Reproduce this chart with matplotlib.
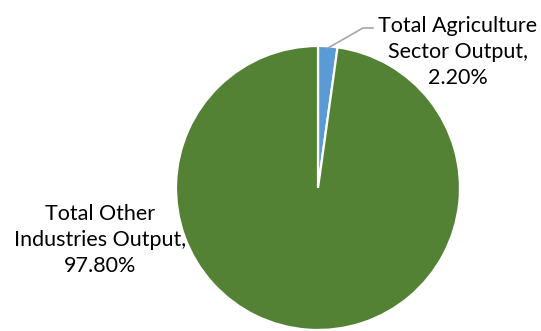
import matplotlib
matplotlib.use('Agg')
import matplotlib.pyplot as plt

# données
categories = ['Total Agriculture\nSector Output', 'Total Other\nIndustries Output']
valeurs = [2.20, 97.80]
couleurs = ['#5B9BD5', '#548235']

plt.rcParams['font.family'] = ['Lato', 'DejaVu Sans']

fig = plt.figure(figsize=(5.41, 3.31), dpi=100)
ax = fig.add_axes([(318 - 142) / 541, (143 - 142) / 331, 284 / 541, 284 / 331])

ax.pie(valeurs, colors=couleurs, startangle=90, counterclock=False, radius=1,
       wedgeprops=dict(edgecolor='white', linewidth=1.6))
ax.set_xlim(-1, 1)
ax.set_ylim(-1, 1)
ax.set_aspect('auto')

# étiquettes
textes = [f'{c},\n{v:.2f}%' for c, v in zip(categories, valeurs)]
ax.text(0.986, 0.958, textes[0], ha='center', va='center', fontsize=15.5,
        linespacing=1.35, color='#000000', clip_on=False)
ax.text(-1.535, -0.366, textes[1], ha='center', va='center', fontsize=15.5,
        linespacing=1.35, color='#000000', clip_on=False)

# ligne de rappel
ax.plot([0.07, 0.317, 0.387], [0.986, 1.127, 1.127], color='#A6A6A6',
        linewidth=1.2, clip_on=False)

fig.savefig('out.png', dpi=100)
